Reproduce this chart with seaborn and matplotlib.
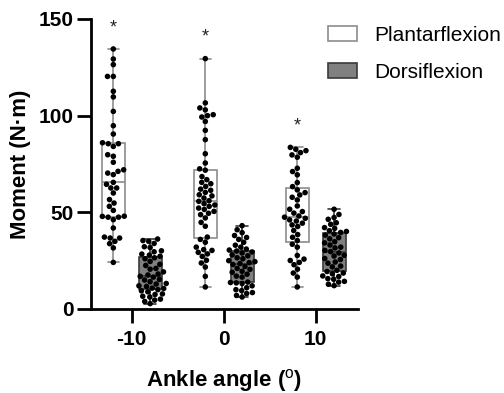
import numpy as np
import pandas as pd
import matplotlib
matplotlib.use("Agg")
import matplotlib.pyplot as plt
from matplotlib.patches import Patch
import seaborn as sns

# ---- data (N·m) ----
angles = ["-10", "0", "10"]
types = ["Plantarflexion", "Dorsiflexion"]

pf_m10 = [24.1, 31.6, 33.8, 35.0, 36.7, 36.7, 37.2, 41.9, 46.2, 47.5, 47.5, 47.9, 48.0,
          51.0, 53.1, 54.8, 56.6, 60.0, 62.6, 62.6, 64.5, 65.5, 69.5, 70.3, 71.2, 72.0,
          75.9, 79.0, 79.8, 84.1, 85.5, 85.5, 86.0, 90.5, 94.8, 102.2, 109.7, 112.6,
          120.3, 120.3, 126.4, 129.3, 134.5]
df_m10 = [36.2, 35.4, 35.0, 33.9, 32.2, 31.8, 30.1, 29.6, 28.4, 27.9, 27.3, 26.5, 26.0,
          24.6, 23.1, 22.5, 21.0, 20.6, 19.2, 18.1, 17.6, 16.9, 16.5, 15.3, 15.0, 14.1,
          13.2, 12.9, 12.0, 11.7, 10.8, 10.6, 10.0, 9.4, 8.9, 7.8, 7.5, 6.6, 6.2, 5.1,
          4.6, 3.9, 2.8]
pf_0 = [11.4, 16.9, 21.7, 23.8, 25.2, 27.2, 28.5, 29.3, 30.3, 30.7, 32.0, 34.5, 36.0,
        37.2, 42.8, 44.8, 47.1, 48.8, 49.5, 50.5, 51.5, 52.2, 53.1, 53.8, 54.5, 55.7,
        56.0, 57.4, 58.5, 59.1, 60.3, 61.4, 62.0, 63.4, 64.8, 65.5, 66.9, 68.5, 71.8,
        72.5, 75.5, 80.3, 87.6, 92.4, 97.0, 99.3, 100.0, 100.5, 103.0, 104.0, 106.6,
        129.5]
df_0 = [43.1, 41.0, 39.5, 38.0, 37.0, 36.0, 34.5, 33.0, 32.0, 31.0, 30.5, 30.0, 29.5,
        29.0, 28.0, 27.5, 26.5, 26.0, 25.0, 24.5, 24.0, 23.5, 23.0, 22.0, 21.0, 20.5,
        19.5, 19.0, 18.0, 17.0, 16.5, 13.9, 13.7, 13.5, 13.2, 12.0, 11.0, 10.0, 9.5,
        8.5, 8.0, 7.0, 6.2]
pf_10 = [11.4, 16.5, 18.6, 20.6, 22.9, 24.1, 25.1, 25.8, 27.7, 32.0, 33.5, 35.4, 37.1,
         38.5, 40.6, 42.7, 43.5, 44.4, 45.5, 46.1, 46.9, 47.5, 48.1, 49.6, 50.4, 51.6,
         53.3, 56.4, 57.8, 59.0, 60.2, 61.6, 63.3, 65.4, 69.4, 71.1, 72.8, 78.5, 79.7,
         80.9, 81.9, 82.6, 83.6]
df_10 = [51.6, 48.9, 47.3, 46.4, 44.6, 43.8, 42.1, 41.7, 40.5, 40.1, 39.6, 38.8, 38.2,
         36.9, 36.3, 34.8, 34.2, 33.1, 32.0, 31.6, 30.3, 29.7, 29.0, 27.8, 27.4, 26.1,
         25.6, 24.3, 23.7, 22.2, 21.8, 20.0, 19.4, 18.6, 18.2, 17.1, 16.8, 15.7, 15.4,
         14.3, 13.9, 12.8, 12.1]
y_ticks = [0, 50, 100, 150]

groups = {("-10", "Plantarflexion"): pf_m10, ("-10", "Dorsiflexion"): df_m10,
          ("0", "Plantarflexion"): pf_0, ("0", "Dorsiflexion"): df_0,
          ("10", "Plantarflexion"): pf_10, ("10", "Dorsiflexion"): df_10}
rows = []
for (a, t), vals in groups.items():
    for v in vals:
        rows.append({"angle": a, "type": t, "moment": v})
df = pd.DataFrame(rows)

sns.set_style("ticks")
plt.rcParams["font.family"] = ["Liberation Sans", "DejaVu Sans"]
plt.rcParams["mathtext.fontset"] = "custom"
plt.rcParams["mathtext.rm"] = "Liberation Sans"
plt.rcParams["mathtext.bf"] = "Liberation Sans:bold"
plt.rcParams["text.color"] = "black"
plt.rcParams["axes.labelcolor"] = "black"

W, H = 504, 393
fig = plt.figure(figsize=(W / 100, H / 100), dpi=100)
fig.patch.set_facecolor("white")
ax = fig.add_axes([90.7 / W, 1 - 309 / H, (358 - 90.7) / W, (309 - 19) / H])

fills = {"Plantarflexion": "white", "Dorsiflexion": "#808080"}
edges = ["#8c8c8c", "#3a3a3a"]

sns.boxplot(data=df, x="angle", y="moment", hue="type", order=angles, hue_order=types,
            palette=fills, whis=(0, 100), width=0.8, gap=0.375, fliersize=0,
            linewidth=1.2, dodge=True, legend=False, ax=ax)
for cont, ec in zip(ax.containers, edges):
    for b in cont.boxes:
        b.set_edgecolor(ec)
    for ln in list(cont.whiskers) + list(cont.caps) + list(cont.medians):
        ln.set_color(ec)

sns.swarmplot(data=df, x="angle", y="moment", hue="type", order=angles, hue_order=types,
              palette={"Plantarflexion": "black", "Dorsiflexion": "black"},
              dodge=True, size=4.0, legend=False, ax=ax)

# significance stars above plantarflexion groups
for i, a in enumerate(angles):
    top = max(groups[(a, "Plantarflexion")])
    ax.text(i - 0.2, top + 11, "*", ha="center", va="center", fontsize=13, color="#222222")

ax.set_xlim(-0.446, 2.46)
ax.set_ylim(0, 150)
ax.set_yticks(y_ticks)
ax.set_xticks(range(len(angles)))
ax.set_xticklabels(angles)
for s in ["top", "right"]:
    ax.spines[s].set_visible(False)
for s in ["left", "bottom"]:
    ax.spines[s].set_linewidth(2)
    ax.spines[s].set_color("black")
ax.tick_params(axis="both", width=2, length=10, colors="black", labelsize=15)
ax.tick_params(axis="y", pad=2)
ax.tick_params(axis="x", pad=5)
for lab in ax.get_xticklabels() + ax.get_yticklabels():
    lab.set_fontweight("bold")

ax.set_ylabel("Moment (N·m)", fontsize=16, fontweight="bold", labelpad=6, color="black")
ax.set_xlabel(r"Ankle angle ($^{\mathrm{o}}$)", fontsize=16, fontweight="bold",
              labelpad=13, color="black")

handles = [Patch(facecolor="white", edgecolor=edges[0], linewidth=1.2),
           Patch(facecolor="#808080", edgecolor=edges[1], linewidth=1.2)]
leg = fig.legend(handles, types, loc="upper left", bbox_to_anchor=(328 / W, 1 - 26 / H),
                 fontsize=15, frameon=False, handlelength=1.4, handleheight=0.72,
                 handletextpad=0.8, labelspacing=0.85, borderpad=0, borderaxespad=0)
for t in leg.get_texts():
    t.set_color("black")

fig.savefig("out.png", dpi=100)
